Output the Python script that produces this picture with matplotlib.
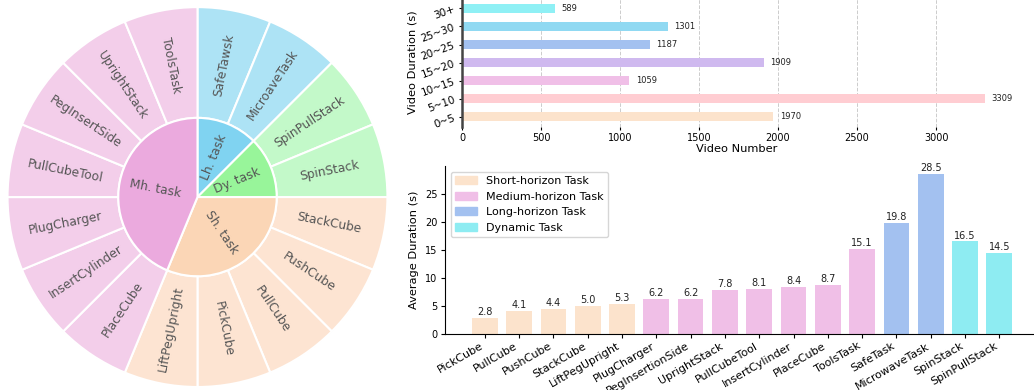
import matplotlib.pyplot as plt
from matplotlib.patches import Patch
import numpy as np

# --- task taxonomy (sunburst) ---
group_names = ['Lh. task', 'Dy. task', 'Sh. task', 'Mh. task']
group_tasks = [
    ['SafeTawsk', 'MicroaveTask'],
    ['SpinPullStack', 'SpinStack'],
    ['StackCube', 'PushCube', 'PullCube', 'PickCube', 'LiftPegUpright'],
    ['PlaceCube', 'InsertCylinder', 'PlugCharger', 'PullCubeTool',
     'PegInsertSide', 'UprightStack', 'ToolsTask'],
]
inner_colors = ['#80d3f1', '#98f59a', '#fbd6b6', '#ebaade']
outer_colors = ['#ade3f5', '#c3f9c9', '#fde4d2', '#f3ceea']

# --- video duration histogram ---
dur_bins = ['0~5', '5~10', '10~15', '15~20', '20~25', '25~30', '30+']
dur_counts = [1970, 3309, 1059, 1909, 1187, 1301, 589]
dur_colors = ['#fce3cc', '#ffcdd2', '#f0bfe7', '#cfb9ef', '#a3c1f0', '#90d9f2', '#8ff0f5']

# --- average duration per task ---
task_names = ['PickCube', 'PullCube', 'PushCube', 'StackCube', 'LiftPegUpright',
              'PlugCharger', 'PegInsertionSide', 'UprightStack', 'PullCubeTool',
              'InsertCylinder', 'PlaceCube', 'ToolsTask', 'SafeTask',
              'MicrowaveTask', 'SpinStack', 'SpinPullStack']
task_avg = [2.8, 4.1, 4.4, 5.0, 5.3, 6.2, 6.2, 7.8, 8.1, 8.4, 8.7, 15.1,
            19.8, 28.5, 16.5, 14.5]
task_kind = [0] * 5 + [1] * 7 + [2] * 2 + [3] * 2
kind_names = ['Short-horizon Task', 'Medium-horizon Task', 'Long-horizon Task', 'Dynamic Task']
kind_colors = ['#fce3cc', '#f0bfe7', '#a3c1f0', '#8eecf2']

fig = plt.figure(figsize=(10.34, 3.9), dpi=100)

# sunburst
ax0 = fig.add_axes([0.00725, 0.0077, 0.3675, 0.974])
r_in = 0.417
outer_labels = [t for g in group_tasks for t in g]
outer_sizes = [1] * len(outer_labels)
outer_cols = [outer_colors[i] for i, g in enumerate(group_tasks) for _ in g]
inner_sizes = [len(g) for g in group_tasks]

w_out, _ = ax0.pie(outer_sizes, radius=1, startangle=90, counterclock=False,
                   colors=outer_cols,
                   wedgeprops=dict(width=1 - r_in, edgecolor='white', linewidth=1.5))
w_in, _ = ax0.pie(inner_sizes, radius=r_in, startangle=90, counterclock=False,
                  colors=inner_colors,
                  wedgeprops=dict(edgecolor='white', linewidth=1.5))


def put_label(wedge, text, r):
    ang = (wedge.theta1 + wedge.theta2) / 2
    ang = (ang + 180) % 360 - 180
    rot = ang
    if rot > 90:
        rot -= 180
    elif rot < -90:
        rot += 180
    x, y = r * np.cos(np.radians(ang)), r * np.sin(np.radians(ang))
    ax0.text(x, y, text, rotation=rot, rotation_mode='anchor', ha='center',
             va='center', fontsize=8.8, color='#555555')


for w, t in zip(w_out, outer_labels):
    put_label(w, t, (1 + r_in) / 2)
for w, t in zip(w_in, group_names):
    put_label(w, t, 0.225)
ax0.set_xlim(-1, 1)
ax0.set_ylim(-1, 1)

# horizontal bars: number of videos per duration bin
ax1 = fig.add_axes([0.4468, 0.674, 0.531, 0.331])
y = np.arange(len(dur_bins))
ax1.barh(y, dur_counts, height=0.5, color=dur_colors)
for yi, c in zip(y, dur_counts):
    ax1.text(c + 40, yi, str(c), va='center', fontsize=6, color='#222222')
ax1.set_yticks(y)
ax1.set_yticklabels(dur_bins, rotation=20, fontsize=7.5)
ax1.tick_params(axis='x', labelsize=7, length=2.5, width=0.8, pad=1.5)
ax1.tick_params(axis='y', length=2.5, width=0.8, pad=1.5)
ax1.set_xlabel('Video Number', fontsize=8.2, labelpad=1)
ax1.set_ylabel('Video Duration (s)', fontsize=8.2, labelpad=2)
for s in ['top', 'right', 'bottom']:
    ax1.spines[s].set_visible(False)
ax1.spines['left'].set_linewidth(1.8)
ax1.spines['left'].set_color('#444444')
ax1.grid(axis='x', linestyle='--', color='#cccccc', linewidth=0.7)
ax1.set_axisbelow(True)

# vertical bars: average duration per task
ax2 = fig.add_axes([0.4304, 0.1436, 0.5686, 0.4308])
x = np.arange(len(task_names))
ax2.bar(x, task_avg, width=0.75, color=[kind_colors[k] for k in task_kind])
for xi, v in zip(x, task_avg):
    ax2.text(xi, v + 0.15, f'{v:.1f}', ha='center', va='bottom', fontsize=7, color='#222222')
ax2.set_xticks(x)
ax2.set_xticklabels(task_names, rotation=30, ha='right', fontsize=8)
ax2.tick_params(axis='y', labelsize=7, length=3, width=0.8, pad=2.5)
ax2.tick_params(axis='x', length=3, width=0.8, pad=2)
ax2.set_xlim(-1.16, 15.98)
ax2.set_ylabel('Average Duration (s)', fontsize=8.2)
ax2.spines['top'].set_visible(False)
ax2.spines['right'].set_visible(False)
handles = [Patch(color=c, label=n) for c, n in zip(kind_colors, kind_names)]
ax2.legend(handles=handles, loc='upper left', fontsize=8)

fig.savefig('out.png', dpi=100)
